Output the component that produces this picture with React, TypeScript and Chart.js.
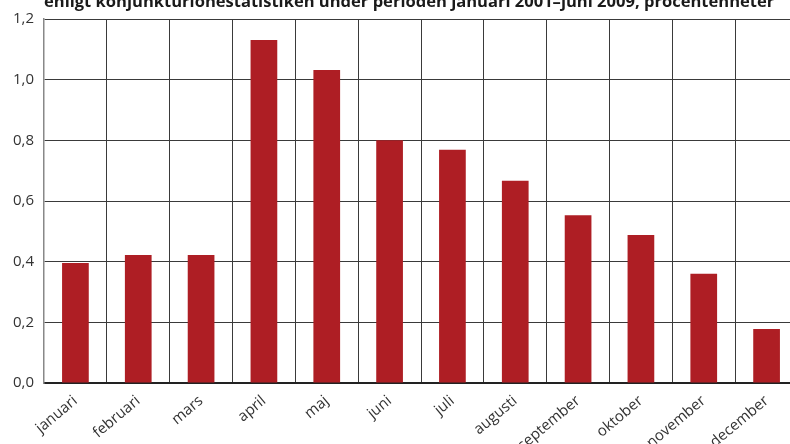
import React, { useEffect, useRef } from "react";
import { Chart, registerables } from "chart.js";

Chart.register(...registerables);

const titleText =
  "enligt konjunkturlönestatistiken under perioden januari 2001–juni 2009, procentenheter";
const categories = [
  "januari", "februari", "mars", "april", "maj", "juni",
  "juli", "augusti", "september", "oktober", "november", "december",
];
const values = [0.396, 0.422, 0.422, 1.131, 1.032, 0.8, 0.769, 0.667, 0.553, 0.488, 0.36, 0.178];
const yTicks = [0, 0.2, 0.4, 0.6, 0.8, 1.0, 1.2];

const W = 810;
const H = 470;
const PLOT_LEFT = 44;
const PLOT_TOP = 18;
const PLOT_RIGHT = 798;
const PLOT_BOTTOM = 383;

const cutTitlePlugin = {
  id: "cutTitle",
  afterDraw(chart: any) {
    const ctx = chart.ctx;
    ctx.save();
    let size = 15;
    ctx.font = `bold ${size}px "Open Sans", sans-serif`;
    const w = ctx.measureText(titleText).width;
    size = size * (731 / w);
    ctx.font = `bold ${size}px "Open Sans", sans-serif`;
    ctx.fillStyle = "#1a1a1a";
    ctx.textBaseline = "alphabetic";
    ctx.textAlign = "left";
    ctx.fillText(titleText, PLOT_LEFT, 6.5);
    ctx.restore();
  },
};

export default function App() {
  const ref = useRef<HTMLCanvasElement>(null);
  useEffect(() => {
    document.body.style.margin = "0";
    document.body.style.overflow = "hidden";
    const chart = new Chart(ref.current!, {
      type: "bar",
      data: {
        labels: categories,
        datasets: [
          {
            data: values,
            backgroundColor: "#ae1e24",
            categoryPercentage: 1,
            barPercentage: 0.425,
          },
        ],
      },
      options: {
        responsive: false,
        animation: false,
        devicePixelRatio: 1,
        layout: {
          padding: { left: 0, top: PLOT_TOP, right: W - PLOT_RIGHT, bottom: 0 },
        },
        plugins: {
          legend: { display: false },
          tooltip: { enabled: false },
        },
        scales: {
          x: {
            offset: true,
            grid: { offset: true, color: "#3a3a3a", lineWidth: 1, drawTicks: false },
            border: { color: "#222", width: 2 },
            ticks: {
              color: "#333",
              font: { family: '"Open Sans", sans-serif', size: 15 },
              minRotation: 40,
              maxRotation: 40,
              padding: 9,
              autoSkip: false,
            },
            afterFit: (axis: any) => {
              axis.height = H - PLOT_BOTTOM;
            },
          },
          y: {
            min: 0,
            max: 1.2,
            afterBuildTicks: (axis: any) => {
              axis.ticks = yTicks.map((v) => ({ value: v }));
            },
            grid: { color: "#3a3a3a", lineWidth: 1, drawTicks: false },
            border: { color: "#888", width: 1.5 },
            ticks: {
              color: "#333",
              font: { family: '"Open Sans", sans-serif', size: 15 },
              padding: 10,
              callback: (v: any) => Number(v).toFixed(1).replace(".", ","),
            },
            afterFit: (axis: any) => {
              axis.width = PLOT_LEFT;
            },
          },
        },
      },
      plugins: [cutTitlePlugin],
    });
    return () => chart.destroy();
  }, []);
  return (
    <div style={{ position: "fixed", left: 0, top: 0, width: 790, height: 444, overflow: "hidden", background: "#fff" }}>
      <canvas ref={ref} width={W} height={H} style={{ width: W, height: H, display: "block" }} />
    </div>
  );
}
